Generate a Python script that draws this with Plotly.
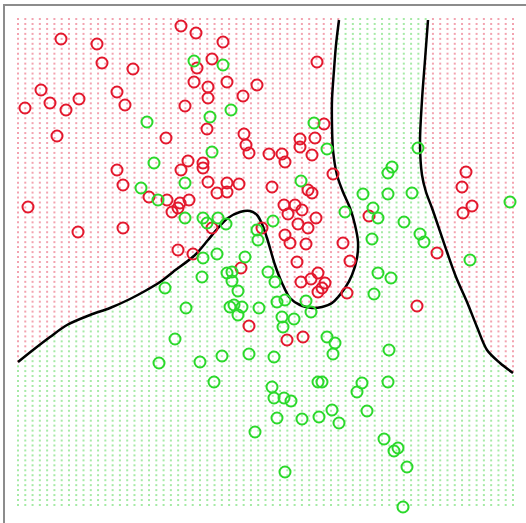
import numpy as np
import plotly.graph_objects as go

red_x = [0.61, 0.97, 1.02, 1.33, 0.41, 1.17, 0.50, 0.79, 0.25, 0.66, 1.25, 0.57, 1.66, 1.17,
         1.81, 1.96, 2.23, 2.12, 1.97, 1.94, 2.27, 2.08, 2.08, 2.57, 2.43, 1.85, 2.07, 2.44,
         2.46, 2.49, 2.69, 2.82, 2.85, 3.00, 3.00, 3.15, 3.12, 3.17, 3.24, 1.88, 2.03, 2.03,
         1.81, 3.33, 4.66, 0.28, 0.78, 1.23, 1.23, 1.49, 1.67, 1.72, 2.08, 2.27, 2.17, 2.27,
         2.39, 2.72, 3.08, 3.12, 1.80, 1.89, 1.78, 2.12, 1.78, 1.93, 2.62, 2.84, 2.88, 2.95,
         3.02, 3.16, 2.98, 3.08, 2.85, 2.90, 3.06, 3.43, 2.97, 2.41, 3.18, 3.11, 3.01, 3.25,
         3.22, 3.18, 3.47, 2.49, 2.87, 3.03, 4.62, 4.72, 4.63, 3.69, 4.37, 3.50, 4.17]
red_y = [4.84, 4.79, 4.60, 4.54, 4.33, 4.31, 4.20, 4.24, 4.15, 4.13, 4.18, 3.87, 3.85, 3.53,
         4.97, 4.90, 4.81, 4.64, 4.55, 4.41, 4.41, 4.36, 4.25, 4.38, 4.27, 4.17, 3.94, 3.89,
         3.78, 3.70, 3.69, 3.69, 3.61, 3.84, 3.76, 3.85, 3.68, 4.61, 3.99, 3.62, 3.60, 3.55,
         3.53, 3.49, 3.51, 3.16, 2.91, 2.95, 3.38, 3.26, 3.23, 3.11, 3.41, 3.40, 3.30, 3.31,
         3.39, 3.36, 3.33, 3.30, 3.20, 3.23, 3.15, 2.95, 2.73, 2.69, 2.95, 3.18, 3.09, 3.18,
         3.13, 3.05, 2.99, 2.95, 2.88, 2.80, 2.79, 2.80, 2.61, 2.55, 2.50, 2.44, 2.41, 2.40,
         2.35, 2.31, 2.30, 1.97, 1.83, 1.86, 3.36, 3.17, 3.10, 3.07, 2.70, 2.62, 2.17]

green_x = [1.47, 1.54, 1.94, 2.23, 2.31, 2.10, 2.12, 3.14, 3.27, 4.18, 3.92, 3.88, 1.41, 1.58,
           1.65, 1.75, 1.85, 3.01, 1.85, 2.03, 2.07, 2.18, 2.26, 2.57, 2.58, 2.73, 3.45, 2.03,
           2.17, 2.45, 2.02, 2.27, 2.32, 2.32, 2.38, 2.68, 2.75, 1.86, 2.30, 2.34, 2.42, 2.38,
           2.59, 2.77, 2.85, 3.06, 3.11, 2.82, 2.94, 2.83, 3.27, 3.35, 3.63, 3.88, 4.12, 3.73,
           3.78, 4.04, 3.72, 4.20, 4.24, 3.78, 3.91, 3.74, 4.70, 5.10, 3.89, 1.59, 2.00, 2.22,
           2.49, 2.74, 3.33, 2.14, 2.72, 2.74, 2.84, 2.91, 3.18, 3.22, 2.77, 3.02, 3.19, 3.32,
           3.39, 2.55, 2.85, 3.62, 3.57, 3.88, 3.67, 3.84, 3.98, 3.94, 4.07, 4.03]
green_y = [4.01, 3.60, 4.62, 4.58, 4.13, 4.06, 3.71, 4.00, 3.74, 3.75, 3.56, 3.50, 3.35, 3.23,
           2.35, 1.84, 3.40, 3.42, 3.05, 3.05, 3.00, 3.05, 2.99, 2.93, 2.83, 3.02, 3.11, 2.65,
           2.69, 2.66, 2.46, 2.50, 2.51, 2.42, 2.32, 2.51, 2.41, 2.15, 2.16, 2.18, 2.16, 2.08,
           2.15, 2.21, 2.23, 2.22, 2.11, 2.06, 2.04, 1.96, 1.86, 1.80, 3.29, 3.29, 3.30, 3.15,
           3.05, 3.01, 2.84, 2.89, 2.81, 2.50, 2.45, 2.29, 2.63, 3.21, 1.73, 1.60, 1.61, 1.67,
           1.69, 1.66, 1.69, 1.41, 1.36, 1.25, 1.25, 1.22, 1.41, 1.41, 1.05, 1.04, 1.06, 1.13,
           1.00, 0.91, 0.51, 1.40, 1.31, 1.41, 1.12, 0.84, 0.75, 0.72, 0.56, 0.16]

# ---- decision boundary (two pieces) ----
bndA_x = [0.18, 0.33, 0.50, 0.67, 0.90, 1.10, 1.30, 1.45, 1.60, 1.73, 1.95, 2.08, 2.18, 2.28,
          2.40, 2.50, 2.57, 2.62, 2.67, 2.75, 2.82, 2.90, 3.00, 3.12, 3.22, 3.32, 3.45, 3.52,
          3.57, 3.58, 3.55, 3.50, 3.43, 3.37, 3.33, 3.32, 3.32, 3.34, 3.36, 3.39]
bndA_y = [1.61, 1.73, 1.86, 1.98, 2.08, 2.15, 2.24, 2.32, 2.41, 2.51, 2.68, 2.83, 2.95, 3.05,
          3.11, 3.12, 3.08, 2.99, 2.85, 2.58, 2.40, 2.25, 2.18, 2.15, 2.16, 2.20, 2.35, 2.48,
          2.65, 2.81, 2.98, 3.15, 3.31, 3.48, 3.73, 3.98, 4.23, 4.53, 4.78, 5.03]
bndB_x = [4.28, 4.25, 4.22, 4.20, 4.22, 4.26, 4.32, 4.47, 4.56, 4.67, 4.77, 4.87, 5.00, 5.13]
bndB_y = [5.03, 4.63, 4.23, 3.80, 3.48, 3.31, 3.15, 2.71, 2.46, 2.21, 1.96, 1.73, 1.60, 1.50]

# ---- background lattice (69 x 99) ----
grid_x = np.linspace(0.18, 5.13, 69)
grid_y = np.linspace(0.18, 5.04, 99)

# green region polygon built from the boundary pieces
poly_x = np.array([-0.5] + bndA_x + [3.39, 4.28] + bndB_x + [6.0, 6.0, -0.5])
poly_y = np.array([1.61] + bndA_y + [6.0, 6.0] + bndB_y + [1.50, -1.0, -1.0])

GX, GY = np.meshgrid(grid_x, grid_y)
px, py = GX.ravel(), GY.ravel()
inside = np.zeros(px.shape, dtype=bool)
n = len(poly_x)
j = n - 1
for i in range(n):
    xi, yi, xj, yj = poly_x[i], poly_y[i], poly_x[j], poly_y[j]
    cond = ((yi > py) != (yj > py)) & (px < (xj - xi) * (py - yi) / (yj - yi + 1e-12) + xi)
    inside ^= cond
    j = i

fig = go.Figure()
fig.add_trace(go.Scatter(x=px[~inside], y=py[~inside], mode="markers",
                         marker=dict(symbol="square", size=2, color="#f3a3b0", line=dict(width=0)),
                         hoverinfo="skip", showlegend=False))
fig.add_trace(go.Scatter(x=px[inside], y=py[inside], mode="markers",
                         marker=dict(symbol="square", size=2, color="#a6eaa6", line=dict(width=0)),
                         hoverinfo="skip", showlegend=False))
fig.add_trace(go.Scatter(x=bndA_x, y=bndA_y, mode="lines",
                         line=dict(color="black", width=2.5, shape="spline", smoothing=0.9),
                         hoverinfo="skip", showlegend=False))
fig.add_trace(go.Scatter(x=bndB_x, y=bndB_y, mode="lines",
                         line=dict(color="black", width=2.5, shape="spline", smoothing=0.9),
                         hoverinfo="skip", showlegend=False))
fig.add_trace(go.Scatter(x=red_x, y=red_y, mode="markers",
                         marker=dict(symbol="circle-open", size=11, color="#e3182d",
                                     line=dict(width=2, color="#e3182d")),
                         showlegend=False))
fig.add_trace(go.Scatter(x=green_x, y=green_y, mode="markers",
                         marker=dict(symbol="circle-open", size=11, color="#2bd92b",
                                     line=dict(width=2, color="#2bd92b")),
                         showlegend=False))

fig.update_layout(
    width=526, height=523,
    margin=dict(l=5, r=0, t=6, b=0),
    paper_bgcolor="white", plot_bgcolor="white",
    hovermode=False,
    xaxis=dict(range=[0.05, 5.26], showgrid=False, zeroline=False, showticklabels=False,
               ticks="", side="top", showline=True, linecolor="#8c8c8c", linewidth=2),
    yaxis=dict(range=[0.0, 5.17], showgrid=False, zeroline=False, showticklabels=False,
               ticks="", showline=True, linecolor="#8c8c8c", linewidth=2),
)

fig.write_html("out.html", config={"displayModeBar": False, "staticPlot": True},
               post_script="document.body.style.margin='0px';document.body.style.overflow='hidden';")
